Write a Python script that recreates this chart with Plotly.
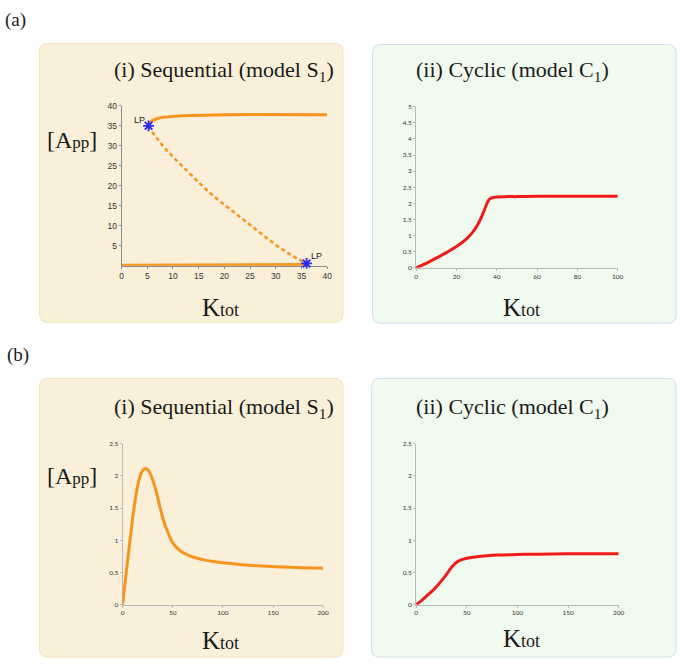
import plotly.graph_objects as go

W, H = 685, 665

# (a)(i) sequential model S1: bistable branches
seq_upper_x = [5.25, 5.6, 6, 6.5, 7, 8, 9, 10, 12, 14, 17, 20, 25, 30, 35, 40]
seq_upper_y = [35, 35.9, 36.3, 36.6, 36.85, 37.1, 37.25, 37.35, 37.5, 37.6, 37.7, 37.75, 37.8, 37.8, 37.8, 37.75]
seq_unstable_x = [5.25, 6, 7, 8, 10, 12, 14, 16, 18, 20, 22, 24, 26, 28, 30, 32, 34, 36]
seq_unstable_y = [35, 33.4, 31.7, 30.0, 27.2, 24.6, 22.0, 19.6, 17.3, 15.3, 13.2, 11.2, 9.2, 7.2, 5.2, 3.5, 1.9, 0.6]
seq_lower_x = [0, 10, 20, 30, 35, 36]
seq_lower_y = [0.1, 0.1, 0.12, 0.15, 0.25, 0.6]
lp_x = [5.25, 36]
lp_y = [35, 0.6]

# (a)(ii) cyclic model C1
cyc_a_x = [0, 5, 10, 15, 20, 25, 28, 30, 32, 33, 34, 35, 36, 37, 38, 40, 45, 50, 60, 80, 100]
cyc_a_y = [0, 0.14, 0.3, 0.47, 0.66, 0.9, 1.1, 1.28, 1.52, 1.66, 1.82, 1.98, 2.1, 2.16, 2.18, 2.2, 2.21, 2.21, 2.22, 2.22, 2.22]

# (b)(i) sequential model S1
seq_b_x = [0, 2, 4, 6, 8, 10, 12, 14, 16, 18, 20, 22, 24, 26, 28, 30, 32, 34, 36, 38, 40, 42, 44, 46, 48, 50,
           55, 60, 70, 80, 90, 100, 120, 140, 160, 180, 200]
seq_b_y = [0, 0.27, 0.55, 0.82, 1.08, 1.34, 1.57, 1.76, 1.91, 2.02, 2.08, 2.11, 2.11, 2.08, 2.02, 1.94, 1.84, 1.73,
           1.60, 1.47, 1.35, 1.25, 1.17, 1.09, 1.02, 0.96, 0.87, 0.81, 0.74, 0.70, 0.67, 0.65, 0.62, 0.60, 0.585,
           0.575, 0.565]

# (b)(ii) cyclic model C1
cyc_b_x = [0, 5, 10, 15, 20, 25, 30, 35, 40, 45, 50, 60, 70, 80, 100, 120, 150, 200]
cyc_b_y = [0, 0.06, 0.13, 0.2, 0.28, 0.37, 0.47, 0.58, 0.66, 0.7, 0.72, 0.745, 0.76, 0.77, 0.78, 0.785, 0.79, 0.79]

ORANGE = "#f7941e"
RED = "#ef1a1a"
BLUE = "#2b2bf0"
SERIF = "Liberation Serif, Times New Roman, serif"


def px(x):
    return x / W


def py(y):
    return 1 - y / H


def rounded_rect(x0, y0, x1, y1, r=8):
    """Rounded rectangle path in paper coords from pixel box."""
    rx, ry = r / W, r / H
    a, b, c, d = px(x0), px(x1), py(y0), py(y1)
    return (
        f"M {a + rx},{c} L {b - rx},{c} Q {b},{c} {b},{c - ry} "
        f"L {b},{d + ry} Q {b},{d} {b - rx},{d} "
        f"L {a + rx},{d} Q {a},{d} {a},{d + ry} "
        f"L {a},{c - ry} Q {a},{c} {a + rx},{c} Z"
    )


fig = go.Figure()

# panel (a)(i)
fig.add_trace(go.Scatter(x=seq_lower_x, y=seq_lower_y, mode="lines", line={"color": ORANGE, "width": 3.5},
                         xaxis="x", yaxis="y", showlegend=False))
fig.add_trace(go.Scatter(x=seq_upper_x, y=seq_upper_y, mode="lines", line={"color": ORANGE, "width": 3},
                         xaxis="x", yaxis="y", showlegend=False))
fig.add_trace(go.Scatter(x=seq_unstable_x, y=seq_unstable_y, mode="lines",
                         line={"color": ORANGE, "width": 2.5, "dash": "4px,3px"},
                         xaxis="x", yaxis="y", showlegend=False))
fig.add_trace(go.Scatter(x=lp_x, y=lp_y, mode="markers", cliponaxis=False,
                         marker={"symbol": "asterisk-open", "size": 9, "color": BLUE,
                                 "line": {"color": BLUE, "width": 1.8}},
                         xaxis="x", yaxis="y", showlegend=False))

# panel (a)(ii)
fig.add_trace(go.Scatter(x=cyc_a_x, y=cyc_a_y, mode="lines", line={"color": RED, "width": 3, "shape": "spline"},
                         xaxis="x2", yaxis="y2", showlegend=False))
# panel (b)(i)
fig.add_trace(go.Scatter(x=seq_b_x, y=seq_b_y, mode="lines", line={"color": ORANGE, "width": 3, "shape": "spline"},
                         xaxis="x3", yaxis="y3", showlegend=False))
# panel (b)(ii)
fig.add_trace(go.Scatter(x=cyc_b_x, y=cyc_b_y, mode="lines", line={"color": RED, "width": 3, "shape": "spline"},
                         xaxis="x4", yaxis="y4", showlegend=False))


def axis_style(domain, rng, tickvals, font_size, family, linecolor, anchor):
    return {
        "domain": domain, "range": rng, "tickvals": tickvals, "showgrid": False, "zeroline": False,
        "showline": True, "linecolor": linecolor, "linewidth": 1, "ticks": "outside", "ticklen": 2,
        "tickcolor": linecolor, "tickfont": {"size": font_size, "family": family, "color": "#333"},
        "anchor": anchor, "layer": "below traces", "fixedrange": True,
    }


mat_font = "Liberation Sans, Arial, sans-serif"
xl_font = "Lato, Open Sans, sans-serif"

fig.update_layout(
    xaxis=axis_style([px(121), px(329)], [0, 40], list(range(0, 41, 5)), 8.5, mat_font, "#8c8c8c", "y"),
    yaxis=axis_style([py(264), py(102)], [0, 40], list(range(5, 41, 5)), 8.5, mat_font, "#8c8c8c", "x"),
    xaxis2=axis_style([px(419), px(623)], [0, 100], list(range(0, 101, 20)), 6.5, xl_font, "#b8b8b8", "y2"),
    yaxis2=axis_style([py(266), py(103)], [0, 5], [i * 0.5 for i in range(11)], 6.5, xl_font, "#b8b8b8", "x2"),
    xaxis3=axis_style([px(122), px(325)], [0, 200], list(range(0, 201, 50)), 6.5, xl_font, "#b8b8b8", "y3"),
    yaxis3=axis_style([py(607), py(444)], [0, 2.5], [i * 0.5 for i in range(6)], 6.5, xl_font, "#b8b8b8", "x3"),
    xaxis4=axis_style([px(419), px(624)], [0, 200], list(range(0, 201, 50)), 6.5, xl_font, "#b8b8b8", "y4"),
    yaxis4=axis_style([py(607), py(444)], [0, 2.5], [i * 0.5 for i in range(6)], 6.5, xl_font, "#b8b8b8", "x4"),
)

# panel backgrounds
beige, beige_edge = "#faf0d9", "#f2e2bc"
green, green_edge = "#f1faef", "#cfe0e8"
for box, fill, edge in [
    ((38, 39, 345, 321), beige, beige_edge),
    ((375, 40, 682, 322), green, green_edge),
    ((38, 378, 345, 660), beige, beige_edge),
    ((374, 378, 682, 660), green, green_edge),
]:
    fig.add_shape(type="path", path=rounded_rect(*box), xref="paper", yref="paper",
                  fillcolor=fill, line={"color": edge, "width": 1}, layer="below")

SMALL_PP = '<span style="font-size:17px">pp</span>'
SMALL_TOT = '<span style="font-size:18px">tot</span>'
annotations = [
    ("(a)", 14, 15, 19),
    ("(b)", 16, 354, 19),
    ("(i) Sequential (model S<sub>1</sub>)", 225, 67, 22),
    ("(ii) Cyclic (model C<sub>1</sub>)", 517, 67, 22),
    ("(i) Sequential (model S<sub>1</sub>)", 225, 408, 22),
    ("(ii) Cyclic (model C<sub>1</sub>)", 517, 408, 22),
    (f"[A{SMALL_PP}]", 71, 137, 24),
    (f"[A{SMALL_PP}]", 71, 477, 24),
    (f"K{SMALL_TOT}", 221, 306, 25),
    (f"K{SMALL_TOT}", 526, 306, 25),
    (f"K{SMALL_TOT}", 221, 643, 25),
    (f"K{SMALL_TOT}", 526, 641, 25),
]
for text, x, y, size in annotations:
    fig.add_annotation(text=text, x=px(x), y=py(y), xref="paper", yref="paper", showarrow=False,
                       xanchor="center", yanchor="middle", font={"family": SERIF, "size": size, "color": "#1a1a1a"})

# LP labels at the limit points
fig.add_annotation(text="LP", x=lp_x[0], y=lp_y[0], xref="x", yref="y", showarrow=False,
                   xanchor="right", yanchor="bottom", xshift=-2, yshift=-1,
                   font={"family": mat_font, "size": 9, "color": "#222"})
fig.add_annotation(text="LP", x=lp_x[1], y=lp_y[1], xref="x", yref="y", showarrow=False,
                   xanchor="left", yanchor="bottom", xshift=2, yshift=0,
                   font={"family": mat_font, "size": 9, "color": "#222"})

fig.update_layout(
    width=W, height=H, margin={"l": 0, "r": 0, "t": 0, "b": 0},
    paper_bgcolor="white", plot_bgcolor="rgba(0,0,0,0)", showlegend=False,
)

fig.write_html("out.html", config={"displayModeBar": False},
               post_script="document.body.style.margin='0';document.body.style.overflow='hidden';")
